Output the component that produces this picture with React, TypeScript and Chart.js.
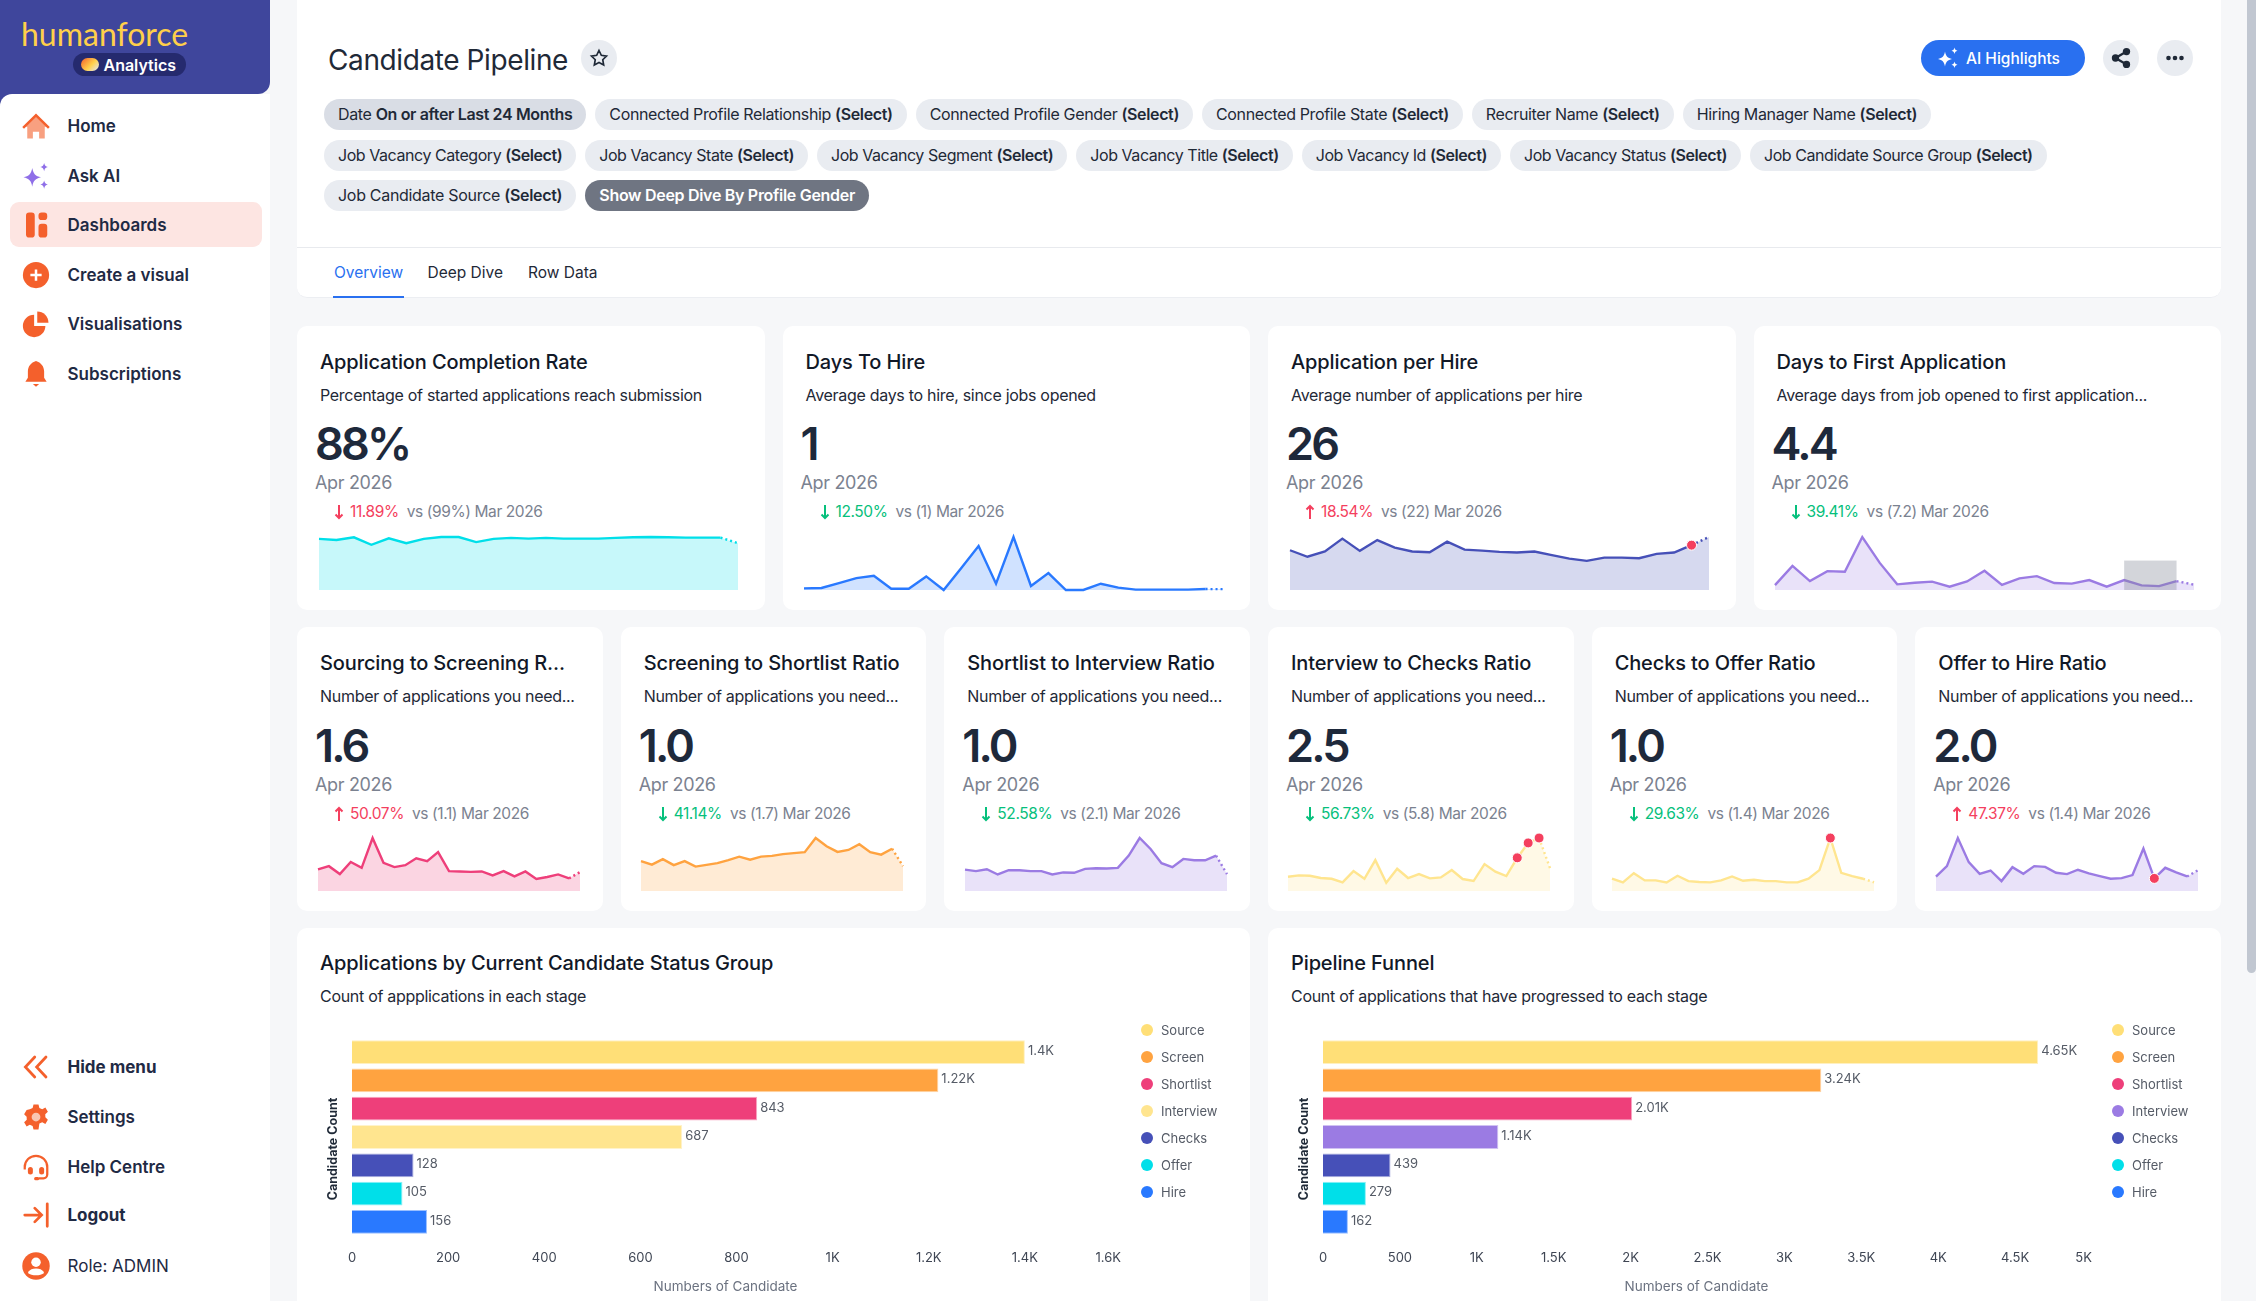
import React, { useEffect, useRef } from 'react';
import { Chart, registerables } from 'chart.js';

Chart.register(...registerables);

const CYAN = '#00dfe9';
const BLUE = '#2979ff';
const INDIGO = '#4650b8';
const PURPLE = '#9b7be3';
const PINK = '#ee3f7a';
const ORANGE = '#ffa340';
const YELLOW = '#ffdf77';
const PALE_YELLOW = '#ffe58f';

// monthly series behind the small KPI charts, last point is the current month
const completionRate = [96, 94, 99, 85, 97, 88, 96, 99.6, 99.6, 90, 96, 98, 96.5, 98, 96.5, 96.5, 96.5, 98, 99, 99.6, 99, 98.4, 98.4, 98.4, 88];
const daysToHire = [2, 2.4, 8.4, 14.4, 17.2, 1.6, 1.6, 16.4, 0, 26.4, 53, 7.6, 64, 4.8, 20.4, 0, 0, 7.6, 2.8, 0.5, 0.5, 0.5, 0.5, 1.14, 1];
const appsPerHire = [19.5, 16.3, 18.9, 25.2, 19.2, 24.5, 20.8, 18.9, 18.5, 23.7, 19.8, 19.3, 18.7, 18.4, 18.9, 17.1, 15.4, 14.3, 15.9, 15.9, 15.6, 17.7, 18.4, 22, 26];
const daysToFirstApp = [4, 19.7, 7.3, 15.4, 14.9, 43.2, 22.1, 4.6, 5.9, 6.8, 2.7, 7, 15.7, 4.1, 9.5, 11.3, 5.7, 5.2, 8.1, 2.7, 8.1, 3.8, 3.2, 7.2, 4.4];
const sourcingRatio = [1.82, 2.1, 1.43, 2.46, 1.96, 4.48, 2.38, 2.02, 2.18, 2.77, 2.52, 3.28, 1.68, 1.65, 1.62, 1.65, 1.32, 1.68, 1.23, 1.65, 1.01, 1.18, 1.4, 1.07, 1.6];
const screeningRatio = [1.2, 1.06, 1.28, 1.04, 1.2, 0.98, 1.05, 1.12, 1.24, 1.38, 1.26, 1.38, 1.41, 1.48, 1.52, 1.56, 2.13, 1.8, 1.57, 1.65, 1.88, 1.56, 1.46, 1.7, 1];
const shortlistRatio = [1.27, 1.18, 1.29, 0.98, 1.23, 1.23, 1.18, 1.18, 0.98, 1.1, 1.08, 1.31, 1.35, 1.33, 1.37, 2.1, 3.14, 2.49, 1.65, 1.41, 1.9, 1.82, 1.82, 2.1, 1];
const interviewRatio = [1.56, 1.71, 1.67, 1.42, 1.34, 0.94, 2.18, 1.34, 3.38, 0.91, 2.43, 1.42, 1.85, 1.38, 1.49, 2.29, 1.31, 1.09, 2.94, 2.11, 1.63, 3.63, 5.26, 5.8, 2.5];
const checksRatio = [1.4, 0.98, 2.04, 1.21, 1.21, 0.98, 1.74, 1.13, 1.02, 0.98, 1.21, 1.66, 1.17, 1.29, 1.13, 1.13, 0.98, 0.98, 1.4, 2.38, 6.05, 2.08, 1.7, 1.4, 1];
const offerRatio = [1.37, 2.39, 5.09, 2.77, 1.65, 1.97, 0.95, 2.29, 1.65, 2.39, 2.32, 1.75, 1.62, 2.04, 1.69, 1.43, 1.18, 1.24, 1.53, 4.07, 1.21, 2.23, 1.78, 1.4, 2];

const stages = ['Source', 'Screen', 'Shortlist', 'Interview', 'Checks', 'Offer', 'Hire'];
const statusCounts = [1400, 1220, 843, 687, 128, 105, 156];
const funnelCounts = [4650, 3240, 2010, 1140, 439, 279, 162];
const statusColors = [YELLOW, ORANGE, PINK, PALE_YELLOW, INDIGO, CYAN, BLUE];
const funnelColors = [YELLOW, ORANGE, PINK, PURPLE, INDIGO, CYAN, BLUE];

const chipRows = [
  [['Date ', 'On or after Last 24 Months'], ['Connected Profile Relationship ', '(Select)'], ['Connected Profile Gender ', '(Select)'], ['Connected Profile State ', '(Select)'], ['Recruiter Name ', '(Select)'], ['Hiring Manager Name ', '(Select)']],
  [['Job Vacancy Category ', '(Select)'], ['Job Vacancy State ', '(Select)'], ['Job Vacancy Segment ', '(Select)'], ['Job Vacancy Title ', '(Select)'], ['Job Vacancy Id ', '(Select)'], ['Job Vacancy Status ', '(Select)'], ['Job Candidate Source Group ', '(Select)']],
  [['Job Candidate Source ', '(Select)'], ['', 'Show Deep Dive By Profile Gender']],
];

const topKpis = [
  { title: 'Application Completion Rate', sub: 'Percentage of started applications reach submission', value: '88%', delta: '11.89%', up: false, bad: true, prev: 'vs (99%) Mar 2026', series: completionRate, color: CYAN, dots: [] as number[] },
  { title: 'Days To Hire', sub: 'Average days to hire, since jobs opened', value: '1', delta: '12.50%', up: false, bad: false, prev: 'vs (1) Mar 2026', series: daysToHire, color: BLUE, dots: [] as number[] },
  { title: 'Application per Hire', sub: 'Average number of applications per hire', value: '26', delta: '18.54%', up: true, bad: true, prev: 'vs (22) Mar 2026', series: appsPerHire, color: INDIGO, dots: [23] },
  { title: 'Days to First Application', sub: 'Average days from job opened to first application...', value: '4.4', delta: '39.41%', up: false, bad: false, prev: 'vs (7.2) Mar 2026', series: daysToFirstApp, color: PURPLE, dots: [] as number[], shade: [20, 23, 24] },
];

const ratioKpis = [
  { title: 'Sourcing to Screening R...', value: '1.6', delta: '50.07%', up: true, bad: true, prev: 'vs (1.1) Mar 2026', series: sourcingRatio, color: PINK, dots: [] as number[] },
  { title: 'Screening to Shortlist Ratio', value: '1.0', delta: '41.14%', up: false, bad: false, prev: 'vs (1.7) Mar 2026', series: screeningRatio, color: ORANGE, dots: [] as number[] },
  { title: 'Shortlist to Interview Ratio', value: '1.0', delta: '52.58%', up: false, bad: false, prev: 'vs (2.1) Mar 2026', series: shortlistRatio, color: PURPLE, dots: [] as number[] },
  { title: 'Interview to Checks Ratio', value: '2.5', delta: '56.73%', up: false, bad: false, prev: 'vs (5.8) Mar 2026', series: interviewRatio, color: PALE_YELLOW, dots: [21, 22, 23] },
  { title: 'Checks to Offer Ratio', value: '1.0', delta: '29.63%', up: false, bad: false, prev: 'vs (1.4) Mar 2026', series: checksRatio, color: PALE_YELLOW, dots: [20] },
  { title: 'Offer to Hire Ratio', value: '2.0', delta: '47.37%', up: true, bad: true, prev: 'vs (1.4) Mar 2026', series: offerRatio, color: PURPLE, dots: [20] },
];

const FONT = 'Inter, sans-serif';
const ICON = '#f4602c';
const RED = '#f43f5e';
const GREEN = '#06c07c';
const SPARK_PAD = 6;

const formatCount = (v: number) => (v >= 1000 ? `${parseFloat((v / 1000).toFixed(2))}K` : `${v}`);

// grey highlight box over part of a sparkline, [from index, to index, height in axis units]
const shadePlugin = {
  id: 'shade',
  afterDatasetsDraw(chart: any, _args: any, opts: any) {
    if (!opts.range) return;
    const { x, y } = chart.scales;
    const [from, to, level] = opts.range;
    const left = x.getPixelForValue(from);
    const top = y.getPixelForValue(level);
    chart.ctx.save();
    chart.ctx.fillStyle = 'rgba(128,136,148,0.35)';
    chart.ctx.fillRect(left, top, x.getPixelForValue(to) - left, y.getPixelForValue(0) - top);
    chart.ctx.restore();
  },
};

const Spark = ({ series, color, dots, shade, left, top, width, height }: any) => {
  const ref = useRef<HTMLCanvasElement>(null);
  useEffect(() => {
    if (!ref.current) return;
    const last = series.length - 1;
    const chart = new Chart(ref.current, {
      type: 'line',
      data: {
        labels: series.map((_: number, i: number) => i),
        datasets: [
          // line on top, area in its own dataset so the dotted end doesn't split the fill
          {
            data: series,
            borderColor: color,
            borderWidth: 2.4,
            tension: 0,
            fill: false,
            clip: false,
            pointRadius: (c: any) => (dots.includes(c.dataIndex) ? 5 : 0),
            pointBackgroundColor: RED,
            pointBorderColor: '#fff',
            pointBorderWidth: 1,
            segment: { borderDash: (c: any) => (c.p1DataIndex === last ? [2, 3] : undefined) },
          },
          {
            data: series,
            borderWidth: 0,
            backgroundColor: color + '38',
            tension: 0,
            fill: 'origin',
            pointRadius: 0,
          },
        ],
      },
      options: {
        responsive: false,
        animation: false,
        layout: { padding: SPARK_PAD },
        events: [],
        scales: {
          x: { display: false },
          y: { display: false, min: 0, max: Math.max(...series) },
        },
        plugins: { legend: { display: false }, tooltip: { enabled: false }, shade: { range: shade } },
      } as any,
      plugins: [shadePlugin],
    });
    return () => chart.destroy();
  }, []);
  return (
    <canvas
      ref={ref}
      width={width + SPARK_PAD * 2}
      height={height + SPARK_PAD * 2}
      style={{ position: 'absolute', left: left - SPARK_PAD, top: top - SPARK_PAD }}
    />
  );
};

// value labels, x tick labels and axis titles are placed by hand around the plot
const barTextPlugin = {
  id: 'barText',
  afterDraw(chart: any) {
    const { ctx, chartArea, scales } = chart;
    ctx.save();
    ctx.textBaseline = 'middle';
    ctx.fillStyle = '#555b66';
    ctx.font = `13px ${FONT}`;
    ctx.textAlign = 'left';
    chart.getDatasetMeta(0).data.forEach((bar: any, i: number) => {
      ctx.fillText(formatCount(chart.data.datasets[0].data[i]), bar.x + 3, bar.y - 1);
    });
    const ticks = scales.x.ticks;
    ctx.fillStyle = '#3f4654';
    ticks.forEach((t: any, i: number) => {
      ctx.textAlign = i === ticks.length - 1 ? 'right' : 'center';
      ctx.fillText(formatCount(t.value), scales.x.getPixelForValue(t.value), chartArea.bottom + 22);
    });
    ctx.textAlign = 'center';
    ctx.fillStyle = '#6b7280';
    ctx.font = `13.5px ${FONT}`;
    ctx.fillText('Numbers of Candidate', (chartArea.left + chartArea.right) / 2 - 11, chartArea.bottom + 51);
    ctx.translate(36, chartArea.top + 111);
    ctx.rotate(-Math.PI / 2);
    ctx.fillStyle = '#1f2937';
    ctx.font = `700 12.5px ${FONT}`;
    ctx.fillText('Candidate Count', 0, 0);
    ctx.restore();
  },
};

const StageBars = ({ counts, colors, xMax, step }: any) => {
  const ref = useRef<HTMLCanvasElement>(null);
  useEffect(() => {
    if (!ref.current) return;
    const chart = new Chart(ref.current, {
      type: 'bar',
      data: {
        labels: stages,
        datasets: [{
          data: counts,
          backgroundColor: colors,
          borderColor: colors.map((c: string) => c + '77'),
          borderWidth: 1,
          barPercentage: 0.84,
          categoryPercentage: 1,
        }],
      },
      options: {
        indexAxis: 'y',
        responsive: false,
        animation: false,
        events: [],
        layout: { padding: { left: 55, top: 20, right: 129, bottom: 65 } },
        scales: {
          x: { display: false, min: 0, max: xMax, ticks: { stepSize: step } },
          y: { display: false },
        },
        plugins: { legend: { display: false }, tooltip: { enabled: false } },
      } as any,
      plugins: [barTextPlugin],
    });
    return () => chart.destroy();
  }, []);
  return <canvas ref={ref} width={953} height={283} style={{ position: 'absolute', left: 0, top: 90 }} />;
};

const StageLegend = ({ colors }: any) => (
  <div style={{ position: 'absolute', left: 844, top: 88 }}>
    {stages.map((s, i) => (
      <div key={s} style={{ display: 'flex', alignItems: 'center', height: 27, fontSize: 13, color: '#555b66' }}>
        <span style={{ width: 12, height: 12, borderRadius: 6, background: colors[i], marginRight: 8 }} />
        {s}
      </div>
    ))}
  </div>
);

const text = (top: number, left: number, extra: any = {}): any => ({
  position: 'absolute',
  top: top - 15,
  left,
  lineHeight: '30px',
  whiteSpace: 'nowrap',
  ...extra,
});

const card: any = { position: 'relative', background: '#fff', borderRadius: 10, overflow: 'hidden' };
const cardTitle = { fontSize: 20, fontWeight: 500, letterSpacing: -0.12, color: '#111827' };
const cardSub = { fontSize: 16, letterSpacing: -0.3, color: '#1f2937' };

const Arrow = ({ up, color }: any) => (
  <svg width="10" height="16" viewBox="0 0 10 16" fill="none" stroke={color} strokeWidth="2" style={{ display: 'block' }}>
    {up ? <path d="M5 15V2M1.5 5.5 5 2l3.5 3.5" /> : <path d="M5 1v13M1.5 10.5 5 14l3.5-3.5" />}
  </svg>
);

const Kpi = ({ k, w, sparkLeft, sparkTop, sparkW, sparkH, dy }: any) => {
  const color = k.bad ? RED : GREEN;
  return (
    <div style={{ ...card, width: w, height: 283.5 }}>
      <div style={text(35.5 + dy, 23, cardTitle)}>{k.title}</div>
      <div style={text(68.5 + dy, 23, cardSub)}>{k.sub || 'Number of applications you need...'}</div>
      <div style={text(118 + dy, 18, { fontSize: 45, fontWeight: 600, letterSpacing: -2.8, color: '#1e293b' })}>{k.value}</div>
      <div style={text(157 + dy, 18, { fontSize: 18, letterSpacing: -0.35, color: '#7b8290' })}>Apr 2026</div>
      <div style={{ position: 'absolute', left: 37, top: 178 + dy }}><Arrow up={k.up} color={color} /></div>
      <div style={{ ...text(186 + dy, 53, { fontSize: 15.5, letterSpacing: -0.4 }), display: 'flex', gap: 8 }}>
        <span style={{ color }}>{k.delta}</span>
        <span style={{ color: '#7b8290' }}>{k.prev}</span>
      </div>
      <Spark series={k.series} color={k.color} dots={k.dots} shade={k.shade} left={sparkLeft} top={sparkTop} width={sparkW} height={sparkH} />
    </div>
  );
};

const ic = (children: any) => (
  <svg width="30" height="30" viewBox="0 0 24 24" fill={ICON} style={{ display: 'block' }}>{children}</svg>
);

const sparkles = 'M9 5.500c.9 4.800 2.600 6.500 7 7.500-4.400 1-6.100 2.700-7 7.500-.9-4.800-2.600-6.500-7-7.500 4.400-1 6.100-2.700 7-7.500zM18.500 1.500c.4 2 1.200 2.800 3 3.300-1.800.5-2.600 1.300-3 3.300-.4-2-1.200-2.800-3-3.300 1.800-.5 2.600-1.300 3-3.300zM18.500 15.500c.4 2 1.200 2.800 3 3.300-1.800.5-2.600 1.300-3 3.300-.4-2-1.200-2.800-3-3.300 1.800-.5 2.600-1.300 3-3.300z';

const icons: any = {
  Home: ic(<><path d="M12 4 3.500 12.500H5V22h4.500v-5.500h5V22H19v-9.500h1.500z" opacity=".6" /><path d="M12 2 1 12.800l1.400 1.400L12 4.800l9.600 9.400 1.400-1.400z" /></>),
  'Ask AI': ic(<path d={sparkles} fill="#8f6fe8" />),
  Dashboards: ic(<><rect x="4" y="2" width="7" height="20" rx="2.500" /><rect x="14" y="2" width="7" height="6" rx="2.500" /><rect x="14" y="11" width="7" height="11" rx="2.500" /></>),
  'Create a visual': ic(<><circle cx="12" cy="12" r="10.500" /><path d="M12 7.500v9M7.500 12h9" stroke="#fff" strokeWidth="2" /></>),
  Visualisations: ic(<><path d="M10.500 4.500a9 9 0 1 0 9 9h-9z" /><path d="M13 2v9h9a9 9 0 0 0-9-9z" /></>),
  Subscriptions: ic(<><path d="M12 1.500c-4 1.200-6.500 4.300-6.500 8.500v5l-2 3.200h17l-2-3.200v-5c0-4.200-2.500-7.300-6.500-8.500z" /><path d="M9.500 20h5l-2.500 2.200z" /></>),
  'Hide menu': ic(<path d="M11 4 3.500 12l7.500 8M20 4l-7.500 8 7.500 8" fill="none" stroke={ICON} strokeWidth="2.200" strokeLinecap="round" />),
  Settings: ic(<><path d="M10 2h4l.7 2.800 2.300 1 2.500-1.400 2 3.400-2.100 2 .1 2.400 2 2-2 3.400-2.500-1.400-2.300 1L14 22h-4l-.7-2.800-2.300-1-2.500 1.400-2-3.400 2.100-2-.1-2.400-2-2 2-3.400L7 5.800l2.300-1z" /><circle cx="12" cy="12" r="3.500" fill="#f9c6b3" /></>),
  'Help Centre': ic(<><path d="M3 14v-2a9 9 0 0 1 18 0v6a3 3 0 0 1-3 3h-4" fill="none" stroke={ICON} strokeWidth="1.800" /><rect x="5.500" y="12" width="4" height="6" rx="2" /><rect x="14.500" y="12" width="4" height="6" rx="2" /><rect x="10.500" y="20" width="4" height="2.500" rx="1.200" /></>),
  Logout: ic(<path d="M3 12h13M11 6.500l5.500 5.500-5.500 5.500M21 3v18" fill="none" stroke={ICON} strokeWidth="2.200" strokeLinecap="round" />),
  'Role: ADMIN': ic(<><circle cx="12" cy="12" r="11" /><circle cx="12" cy="9" r="3.800" fill="#fff" /><path d="M5.500 17.500c1-2.500 3.500-3.500 6.500-3.500s5.500 1 6.500 3.500c-3 2.500-10 2.500-13 0z" fill="#fff" /></>),
};

const navTop = [['Home', 126], ['Ask AI', 175.5], ['Dashboards', 224.5], ['Create a visual', 275], ['Visualisations', 324], ['Subscriptions', 373.5]];
const navBottom = [['Hide menu', 1067], ['Settings', 1117], ['Help Centre', 1167], ['Logout', 1215], ['Role: ADMIN', 1266]];

const navWeight = (label: string) => {
  if (label.startsWith('Role')) return 400;
  return label === 'Hide menu' || label === 'Logout' ? 700 : 600;
};

const NavItem = ({ label, y }: any) => (
  <>
    <div style={{ position: 'absolute', left: 21, top: y - 15 }}>{icons[label]}</div>
    <div style={text(y, 67.5, { fontSize: 17, fontWeight: navWeight(label), color: '#1f2a44' })}>{label}</div>
  </>
);

const Round = ({ x, children }: any) => (
  <div style={{ position: 'absolute', left: x - 18, top: 40, width: 36, height: 36, borderRadius: 18, background: '#e9ecf1', display: 'flex', alignItems: 'center', justifyContent: 'center' }}>
    {children}
  </div>
);

export default function App() {
  return (
    <div style={{ position: 'fixed', left: 0, top: 0, width: 2256, height: 1301, overflow: 'hidden', background: '#f6f7f9', fontFamily: FONT }}>
      {/* sidebar */}
      <div style={{ position: 'absolute', left: 0, top: 0, width: 270, height: 94, background: '#3f469c', borderBottomRightRadius: 12 }} />
      <div style={{ position: 'absolute', left: 0, top: 94, width: 12, height: 12, background: '#3f469c' }} />
      <div style={{ position: 'absolute', left: 0, top: 94, width: 270, height: 1207, background: '#fff', borderTopLeftRadius: 12 }} />
      <div style={text(34, 21, { fontFamily: 'Lato, sans-serif', fontSize: 32, color: '#ffcf4a' })}>humanforce</div>
      <div style={{ position: 'absolute', left: 73, top: 53, width: 113, height: 23, borderRadius: 12, background: '#252a6e' }} />
      <div style={{ position: 'absolute', left: 81, top: 58, width: 18, height: 13, borderRadius: 8, background: 'linear-gradient(135deg,#f4602c,#ffcf4a 55%,#dfe7ff)' }} />
      <div style={text(64.5, 103.5, { fontSize: 16, fontWeight: 600, color: '#fff' })}>Analytics</div>
      <div style={{ position: 'absolute', left: 9.5, top: 202, width: 252, height: 45, borderRadius: 9, background: '#fde5e2' }} />
      {navTop.map(([l, y]) => <NavItem key={l} label={l} y={y} />)}
      {navBottom.map(([l, y]) => <NavItem key={l} label={l} y={y} />)}

      {/* header */}
      <div style={{ position: 'absolute', left: 297, top: 0, width: 1924, height: 298, background: '#fff', borderRadius: '0 0 10px 10px', borderBottom: '1px solid #eceef2', boxSizing: 'border-box' }} />
      <div style={{ position: 'absolute', left: 297, top: 247, width: 1924, height: 1, background: '#e8eaee' }} />
      <div style={text(60, 328, { fontSize: 28, letterSpacing: -0.4, color: '#1f2937' })}>Candidate Pipeline</div>
      <Round x={599}>
        <svg width="20" height="20" viewBox="0 0 24 24" fill="none" stroke="#1f2937" strokeWidth="2"><path d="m12 3 2.800 5.800 6.200.9-4.500 4.400 1.100 6.300L12 17.400l-5.600 3 1.100-6.300L3 9.700l6.200-.9z" /></svg>
      </Round>
      {chipRows.map((row, r) => (
        <div key={r} style={{ position: 'absolute', left: 324, top: [99, 139.5, 180][r], display: 'flex', gap: 9, letterSpacing: [-0.36, -0.44, -0.3][r] }}>
          {row.map(([plain, bold]) => {
            const dark = plain === '';
            const active = plain === 'Date ';
            return (
              <div key={plain + bold} style={{ height: 31, lineHeight: '31px', padding: '0 14px', borderRadius: 16, fontSize: 16, whiteSpace: 'nowrap', color: dark ? '#fff' : '#1f2937', background: dark ? '#6f7582' : active ? '#d9dde5' : '#e9ecf1' }}>
                {plain}<span style={{ fontWeight: 600 }}>{bold}</span>
              </div>
            );
          })}
        </div>
      ))}
      <div style={{ position: 'absolute', left: 1921, top: 40, width: 164, height: 36, borderRadius: 18, background: '#2970f0' }}>
        <svg width="24" height="26" viewBox="0 0 24 24" fill="#fff" style={{ position: 'absolute', left: 15, top: 5 }}><path d={sparkles} /></svg>
        <div style={text(19, 45, { fontSize: 15.5, fontWeight: 500, color: '#fff' })}>AI Highlights</div>
      </div>
      <Round x={2121}>
        <svg width="22" height="22" viewBox="0 0 24 24" fill="#1f2937"><circle cx="18" cy="5" r="4" /><circle cx="6" cy="12" r="4" /><circle cx="18" cy="19" r="4" /><path d="M6 12 18 5M6 12l12 7" stroke="#1f2937" strokeWidth="2.500" /></svg>
      </Round>
      <Round x={2175}>
        <svg width="20" height="6" viewBox="0 0 20 6" fill="#1f2937"><circle cx="3.500" cy="3" r="2.300" /><circle cx="10" cy="3" r="2.300" /><circle cx="16.500" cy="3" r="2.300" /></svg>
      </Round>
      <div style={text(273, 334, { fontSize: 15.5, color: '#2970f0' })}>Overview</div>
      <div style={text(273, 427.5, { fontSize: 15.5, color: '#1f2937' })}>Deep Dive</div>
      <div style={text(273, 528, { fontSize: 15.5, color: '#1f2937' })}>Row Data</div>
      <div style={{ position: 'absolute', left: 333, top: 296, width: 71, height: 2, background: '#2970f0' }} />

      {/* KPI rows */}
      <div style={{ position: 'absolute', left: 297, top: 326, display: 'flex', gap: 18 }}>
        {topKpis.map((k) => <Kpi key={k.title} k={k} w={467.5} sparkLeft={21.5} sparkTop={211} sparkW={419} sparkH={53} dy={0} />)}
      </div>
      <div style={{ position: 'absolute', left: 297, top: 627, display: 'flex', gap: 18 }}>
        {ratioKpis.map((k) => <Kpi key={k.title} k={k} w={305.67} sparkLeft={20.5} sparkTop={210.5} sparkW={262} sparkH={53.5} dy={0.5} />)}
      </div>

      {/* stage bars */}
      <div style={{ position: 'absolute', left: 297, top: 928, display: 'flex', gap: 18 }}>
        <div style={{ ...card, width: 953, height: 400 }}>
          <div style={text(35, 23, cardTitle)}>Applications by Current Candidate Status Group</div>
          <div style={text(68, 23, cardSub)}>Count of appplications in each stage</div>
          <StageBars counts={statusCounts} colors={statusColors} xMax={1600} step={200} />
          <StageLegend colors={statusColors} />
        </div>
        <div style={{ ...card, width: 953, height: 400 }}>
          <div style={text(35, 23, cardTitle)}>Pipeline Funnel</div>
          <div style={text(68, 23, cardSub)}>Count of applications that have progressed to each stage</div>
          <StageBars counts={funnelCounts} colors={funnelColors} xMax={5000} step={500} />
          <StageLegend colors={funnelColors} />
        </div>
      </div>

      {/* scrollbar thumb */}
      <div style={{ position: 'absolute', left: 2247, top: 0, width: 9, height: 973, background: '#c1c7d1', borderRadius: '0 0 5px 5px' }} />
    </div>
  );
}
